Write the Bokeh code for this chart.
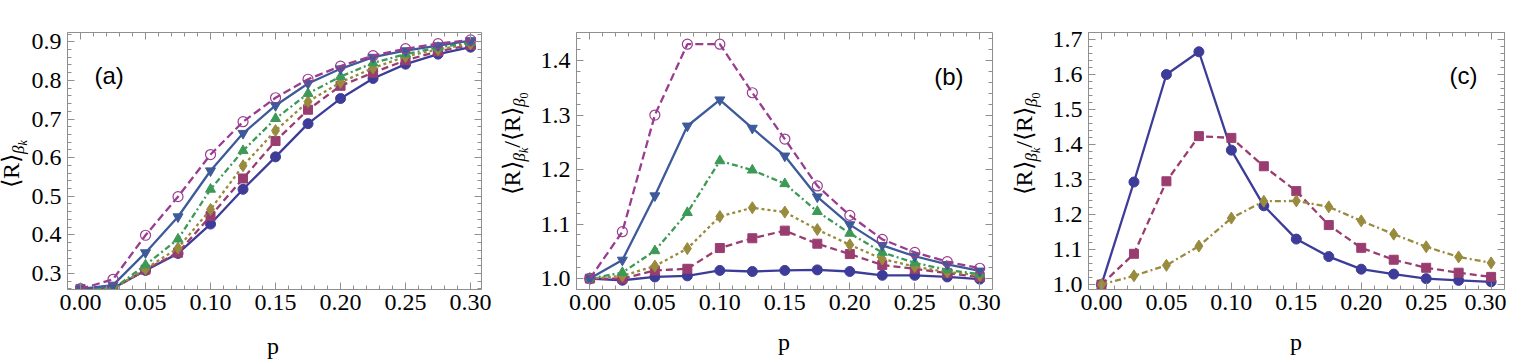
import math
from bokeh.plotting import figure
from bokeh.layouts import row, column
from bokeh.models import (LinearAxis, FixedTicker, Range1d, Label, Div,
                          NumeralTickFormatter, CustomJSTickFormatter)
from bokeh.embed import file_html
from bokeh.resources import INLINE

# ---------------- data ----------------
p_values = [0.0, 0.025, 0.05, 0.075, 0.1, 0.125, 0.15, 0.175, 0.2, 0.225, 0.25, 0.275, 0.3]

# panel (a): <R>_{beta_k}
a_circle   = [0.26, 0.262, 0.308, 0.352, 0.428, 0.518, 0.602, 0.688, 0.753, 0.805, 0.842, 0.868, 0.886]
a_square   = [0.26, 0.26, 0.31, 0.354, 0.449, 0.546, 0.643, 0.724, 0.786, 0.82, 0.852, 0.875, 0.892]
a_diamond  = [0.26, 0.26, 0.312, 0.366, 0.466, 0.579, 0.67, 0.745, 0.795, 0.832, 0.862, 0.88, 0.895]
a_tri_up   = [0.26, 0.26, 0.322, 0.389, 0.518, 0.618, 0.701, 0.766, 0.81, 0.845, 0.868, 0.885, 0.898]
a_tri_down = [0.26, 0.27, 0.354, 0.447, 0.566, 0.663, 0.735, 0.792, 0.83, 0.86, 0.877, 0.89, 0.903]
a_open     = [0.26, 0.285, 0.399, 0.499, 0.608, 0.693, 0.755, 0.803, 0.837, 0.864, 0.882, 0.895, 0.905]

# panel (b): ratio
b_circle   = [1.0, 0.997, 1.003, 1.005, 1.015, 1.013, 1.015, 1.016, 1.013, 1.006, 1.006, 1.003, 0.999]
b_square   = [1.0, 1.0, 1.015, 1.018, 1.056, 1.074, 1.088, 1.064, 1.045, 1.025, 1.018, 1.010, 1.003]
b_diamond  = [1.0, 1.005, 1.023, 1.055, 1.114, 1.130, 1.122, 1.090, 1.062, 1.036, 1.022, 1.012, 1.006]
b_tri_up   = [1.0, 1.011, 1.051, 1.121, 1.216, 1.199, 1.174, 1.123, 1.083, 1.048, 1.029, 1.016, 1.008]
b_tri_down = [1.0, 1.034, 1.152, 1.280, 1.328, 1.276, 1.225, 1.150, 1.099, 1.061, 1.041, 1.026, 1.014]
b_open     = [1.0, 1.086, 1.300, 1.430, 1.430, 1.341, 1.256, 1.170, 1.116, 1.072, 1.048, 1.031, 1.019]

# panel (c): ratio
c_circle   = [1.0, 1.293, 1.600, 1.665, 1.384, 1.225, 1.130, 1.080, 1.044, 1.030, 1.017, 1.012, 1.008]
c_square   = [1.0, 1.088, 1.295, 1.424, 1.419, 1.338, 1.267, 1.170, 1.105, 1.071, 1.048, 1.034, 1.022]
c_diamond  = [1.0, 1.025, 1.055, 1.110, 1.190, 1.238, 1.239, 1.222, 1.182, 1.144, 1.108, 1.079, 1.062]

x_ticks = [0.0, 0.05, 0.1, 0.15, 0.2, 0.25, 0.3]
x_minor = [round(-0.01 + 0.01 * i, 3) for i in range(33)]
a_yticks = [0.3, 0.4, 0.5, 0.6, 0.7, 0.8, 0.9]
b_yticks = [1.0, 1.1, 1.2, 1.3, 1.4]
c_yticks = [1.0, 1.1, 1.2, 1.3, 1.4, 1.5, 1.6, 1.7]

# ---------------- style ----------------
BLUE = "#3d3d99"
MAGENTA = "#993d71"
OLIVE = "#998b3d"
GREEN = "#3d9956"
STEEL = "#3d5a99"
PURPLE = "#993d8f"
FRAME = "#8f8f8f"
SERIF = "Liberation Serif"
SANS = "Liberation Sans"
BT = 32
BB = 49
HF = BT + 257 + BB      # figure height
HP = 345 - HF           # height of the row carrying the x titles


def make_fig(width, bl, br, xr, yr, yticks, yminor):
    p = figure(width=width, height=HF, x_range=Range1d(*xr), y_range=Range1d(*yr),
               output_backend="svg", toolbar_location=None,
               min_border_left=bl, min_border_right=br,
               min_border_top=BT, min_border_bottom=BB)
    p.grid.visible = False
    p.outline_line_color = None
    p.background_fill_color = "white"
    p.border_fill_color = "white"
    bx = p.below[0]
    ly = p.left[0]
    up = LinearAxis()
    rt = LinearAxis()
    p.add_layout(up, "above")
    p.add_layout(rt, "right")
    for ax in [bx, up]:
        ax.ticker = FixedTicker(ticks=x_ticks, minor_ticks=x_minor)
    for ax in [ly, rt]:
        ax.ticker = FixedTicker(ticks=yticks, minor_ticks=yminor)
    for ax in [bx, ly, up, rt]:
        ax.axis_line_color = FRAME
        ax.major_tick_line_color = FRAME
        ax.minor_tick_line_color = FRAME
        ax.major_tick_in = 7
        ax.major_tick_out = 0
        ax.minor_tick_in = 4
        ax.minor_tick_out = 0
        ax.major_label_text_font = SERIF
        ax.major_label_text_font_size = "24px"
        ax.major_label_text_color = "black"
    for ax in [up, rt]:
        ax.formatter = CustomJSTickFormatter(code="return ''")
        ax.major_label_text_font_size = "1px"
        ax.major_label_standoff = 0
    bx.formatter = NumeralTickFormatter(format="0.00")
    bx.major_label_standoff = 5
    ly.formatter = NumeralTickFormatter(format="0.0")
    ly.major_label_standoff = 6
    return p


def series(p, ys, color, dash, marker, size, open_marker=False):
    p.line(p_values, ys, line_color=color, line_width=2.3, line_dash=dash)
    if open_marker:
        p.scatter(p_values, ys, marker=marker, size=size, line_color=color,
                  fill_color=None, line_width=1.2)
    else:
        p.scatter(p_values, ys, marker=marker, size=size, line_color=color,
                  fill_color=color)


def sub(text, size, shift, italic=True, inner=""):
    style = "italic" if italic else "normal"
    return (f'<span style="font-size:{size}px;font-style:{style};position:relative;'
            f'top:{shift}px">{text}{inner}</span>')


def ylabel_div(width, x_rel, c_rel, html):
    block = ('<div style="display:block;width:max-content;'
             f'margin-left:{x_rel}px;margin-top:{c_rel}px;'
             'transform-origin:0 0;transform:rotate(-90deg) translateX(-50%);'
             "white-space:nowrap;font-family:'Liberation Serif',serif;"
             f'font-size:24px;line-height:16px;color:#000;">{html}</div>')
    return Div(text=block, width=width, height=HF, margin=(0, 0, 0, 0),
               styles={"overflow": "visible"})


def xlabel_div(width, frame_left, top, text):
    block = ('<div style="display:block;width:416px;text-align:center;'
             f'margin-left:{frame_left}px;margin-top:{top}px;'
             "white-space:nowrap;font-family:'Liberation Serif',serif;"
             f'font-size:24px;line-height:24px;color:#000;">{text}</div>')
    return Div(text=block, width=width, height=HP, margin=(0, 0, 0, 0),
               styles={"overflow": "visible"})


R_BK = "⟨R⟩" + sub("β", 17, 5, inner=sub("k", 12, 3))
R_B0 = "⟨R⟩" + sub("β", 17, 5, inner=sub("0", 12, 3, italic=False))

# ---------------- panel (a) ----------------
a_xr = (-0.01, 0.3084)
a_yr = (0.2586, 0.924)
la = ylabel_div(28, 3, 164, R_BK)
pa = make_fig(469, 37, 16, a_xr, a_yr, a_yticks,
              [round(0.24 + 0.02 * i, 3) for i in range(35)])
series(pa, a_circle, BLUE, "solid", "circle", 10)
series(pa, a_square, MAGENTA, "7 4", "square", 9)
series(pa, a_diamond, OLIVE, "3 3", "diamond", 12)
series(pa, a_tri_up, GREEN, "6 3 2 3", "triangle", 10)
series(pa, a_tri_down, STEEL, "solid", "inverted_triangle", 10)
series(pa, a_open, PURPLE, "8 4", "circle", 10, open_marker=True)
pa.add_layout(Label(x=0.0107, y=0.813, text="(a)", text_font=SANS, text_font_size="24px",
                    text_baseline="middle", text_color="black"))
xa = xlabel_div(497, 65, -4, "p")

# ---------------- panel (b) ----------------
b_xr = (-0.0103, 0.3098)
b_yr = (0.98, 1.4515)
lb = ylabel_div(34, 7, 144, R_BK + "/" + R_B0)
pb = make_fig(471, 45, 10, b_xr, b_yr, b_yticks,
              [round(0.98 + 0.02 * i, 3) for i in range(25)])
series(pb, b_circle, BLUE, "solid", "circle", 10)
series(pb, b_square, MAGENTA, "7 4", "square", 9)
series(pb, b_diamond, OLIVE, "3 3", "diamond", 12)
series(pb, b_tri_up, GREEN, "6 3 2 3", "triangle", 10)
series(pb, b_tri_down, STEEL, "solid", "inverted_triangle", 10)
series(pb, b_open, PURPLE, "8 4", "circle", 10, open_marker=True)
pb.add_layout(Label(x=0.265, y=1.371, text="(b)", text_font=SANS, text_font_size="24px",
                    text_baseline="middle", text_color="black"))
xb = xlabel_div(505, 79, -11, "p")

# ---------------- panel (c) ----------------
c_xr = (-0.01, 0.3103)
c_yr = (0.986, 1.72)
lc = ylabel_div(44, 14, 144, R_BK + "/" + R_B0)
pc = make_fig(460, 42, 2, c_xr, c_yr, c_yticks,
              [round(0.98 + 0.02 * i, 3) for i in range(38)])
series(pc, c_circle, BLUE, "solid", "circle", 10)
series(pc, c_square, MAGENTA, "7 4", "square", 9)
series(pc, c_diamond, OLIVE, "6 3 2 3", "diamond", 12)
pc.add_layout(Label(x=0.268, y=1.597, text="(c)", text_font=SANS, text_font_size="24px",
                    text_baseline="middle", text_color="black"))
xc = xlabel_div(504, 86, -11, "p")

layout = column(row(la, pa, lb, pb, lc, pc), row(xa, xb, xc))
open("out.html", "w").write(file_html(layout, INLINE))
